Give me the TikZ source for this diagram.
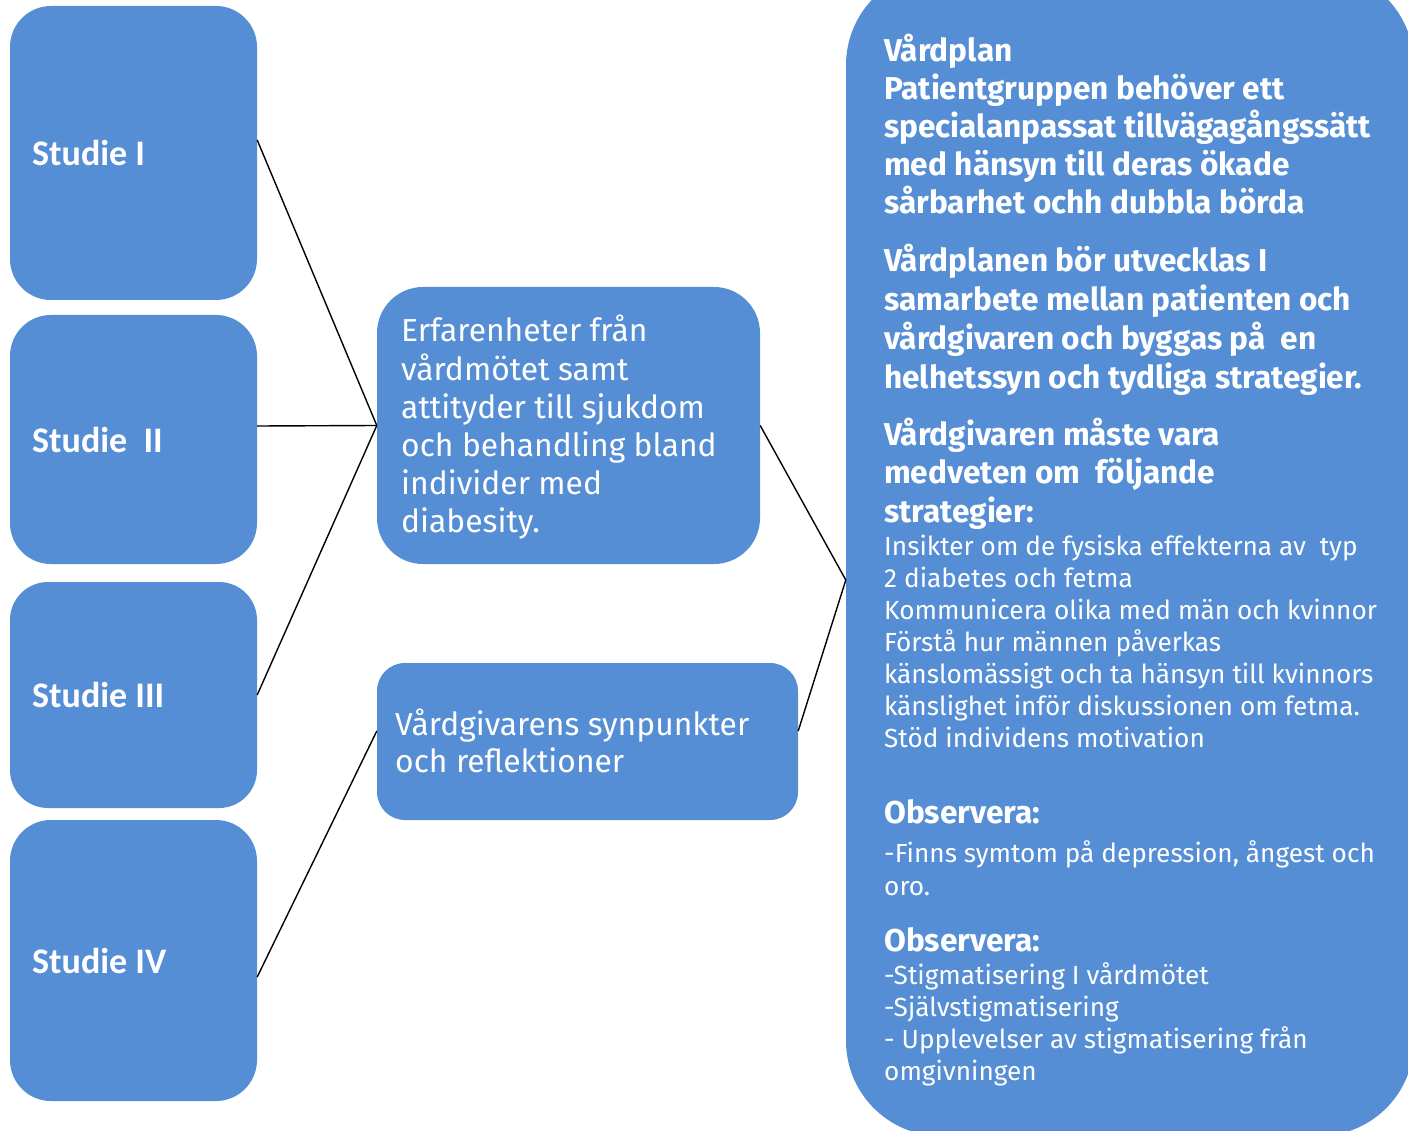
\documentclass[tikz,border=0pt]{standalone}
\usepackage{fontspec}
\setmainfont{Fira Sans}
\newfontfamily\studiefont{Carlito}
\definecolor{boxblue}{RGB}{85,142,213}
\newcommand\vstack[2]{\vtop{\baselineskip=#1\lineskiplimit=-100pt\relax #2}}
\tikzset{
  box/.style={fill=boxblue, draw=none, inner sep=0pt, rounded corners=#1},
  conn/.style={draw=black, line width=1.4pt},
  stxt/.style={anchor=base west, inner sep=0pt, text=white, font=\studiefont\bfseries\fontsize{36}{40}\selectfont},
  mtxt/.style={anchor=base west, inner sep=0pt, text=white, font=\fontsize{31.8}{38}\selectfont},
  btxt/.style={anchor=base west, inner sep=0pt, text=white, font=\bfseries\fontsize{31.6}{38}\selectfont},
  ntxt/.style={anchor=base west, inner sep=0pt, text=white, font=\fontsize{26.2}{32}\selectfont},
}
\begin{document}
\begin{tikzpicture}[x=1pt,y=1pt]
\useasboundingbox (0,0) rectangle (1408,-1131);
\clip (0,0) rectangle (1408,-1131);
% left boxes
\node[box=41pt, minimum width=247pt, minimum height=294pt] (s1) at (133.5,-153) {};
\node[box=41pt, minimum width=247pt, minimum height=249pt] (s2) at (133.5,-439.5) {};
\node[box=38pt, minimum width=247pt, minimum height=226pt] (s3) at (133.5,-695) {};
\node[box=41pt, minimum width=247pt, minimum height=281pt] (s4) at (133.5,-960.5) {};
\node[stxt] (t1) at (32,-166) {Studie I};
\node[stxt] (t2) at (32,-452) {Studie\ \ II};
\node[stxt] (t3) at (32,-707) {Studie III};
\node[stxt] (t4) at (32,-973) {Studie IV};
% middle boxes
\node[box=46pt, minimum width=383pt, minimum height=277pt] (m1) at (568.5,-425.5) {};
\node[box=28pt, minimum width=421pt, minimum height=157pt] (m2) at (587.5,-741.5) {};
\node[mtxt] (tm1) at (401,-342) {\vstack{38.2pt}{\hbox{Erfarenheter från}\hbox{vårdmötet samt}\hbox{attityder till sjukdom}\hbox{och behandling bland}\hbox{individer med}\hbox{diabesity.}}};
\node[mtxt] (tm2) at (395,-735) {\vstack{37.5pt}{\hbox{Vårdgivarens synpunkter}\hbox{och reflektioner}}};
% right box
\node[box=95pt, minimum width=568pt, minimum height=1166pt] (rb) at (1130,-553) {};
\node[btxt] (r1) at (884,-62) {\vstack{38pt}{\hbox{Vårdplan}\hbox{Patientgruppen behöver ett}\hbox{specialanpassat tillvägagångssätt}\hbox{med hänsyn till deras ökade}\hbox{sårbarhet ochh dubbla börda}}};
\node[btxt] (r2) at (884,-272) {\vstack{38.7pt}{\hbox{Vårdplanen bör utvecklas I}\hbox{samarbete mellan patienten och}\hbox{vårdgivaren och byggas på\ \ en}\hbox{helhetssyn och tydliga strategier.}}};
\node[btxt] (r3) at (884,-445) {\vstack{38.5pt}{\hbox{Vårdgivaren måste vara}\hbox{medveten om\ \ följande}\hbox{strategier:}}};
\node[ntxt] (r4) at (884,-555) {\vstack{32pt}{\hbox{Insikter om de fysiska effekterna av\ \ typ}\hbox{2 diabetes och fetma}\hbox{Kommunicera olika med män och kvinnor}\hbox{Förstå hur männen påverkas}\hbox{känslomässigt och ta hänsyn till kvinnors}\hbox{känslighet inför diskussionen om fetma.}\hbox{Stöd individens motivation}}};
\node[btxt] (r5) at (884,-823) {Observera:};
\node[ntxt] (r6) at (884,-862) {\vstack{33pt}{\hbox{-Finns symtom på depression, ångest och}\hbox{oro.}}};
\node[btxt] (r7) at (884,-951) {Observera:};
\node[ntxt] (r8) at (884,-984) {\vstack{32pt}{\hbox{-Stigmatisering I vårdmötet}\hbox{-Självstigmatisering}\hbox{- Upplevelser av stigmatisering från}\hbox{omgivningen}}};
% connectors
\coordinate (rin) at ([yshift=-27pt]rb.west);
\draw[conn] ([yshift=13pt]s1.east) -- (m1.west);
\draw[conn] ([yshift=13.5pt]s2.east) -- (m1.west);
\draw[conn] (s3.east) -- (m1.west);
\draw[conn] ([yshift=-16.5pt]s4.east) -- ([yshift=10.5pt]m2.west);
\draw[conn] (m1.east) -- (rin);
\draw[conn] ([yshift=10.5pt]m2.east) -- (rin);
\end{tikzpicture}
\end{document}
